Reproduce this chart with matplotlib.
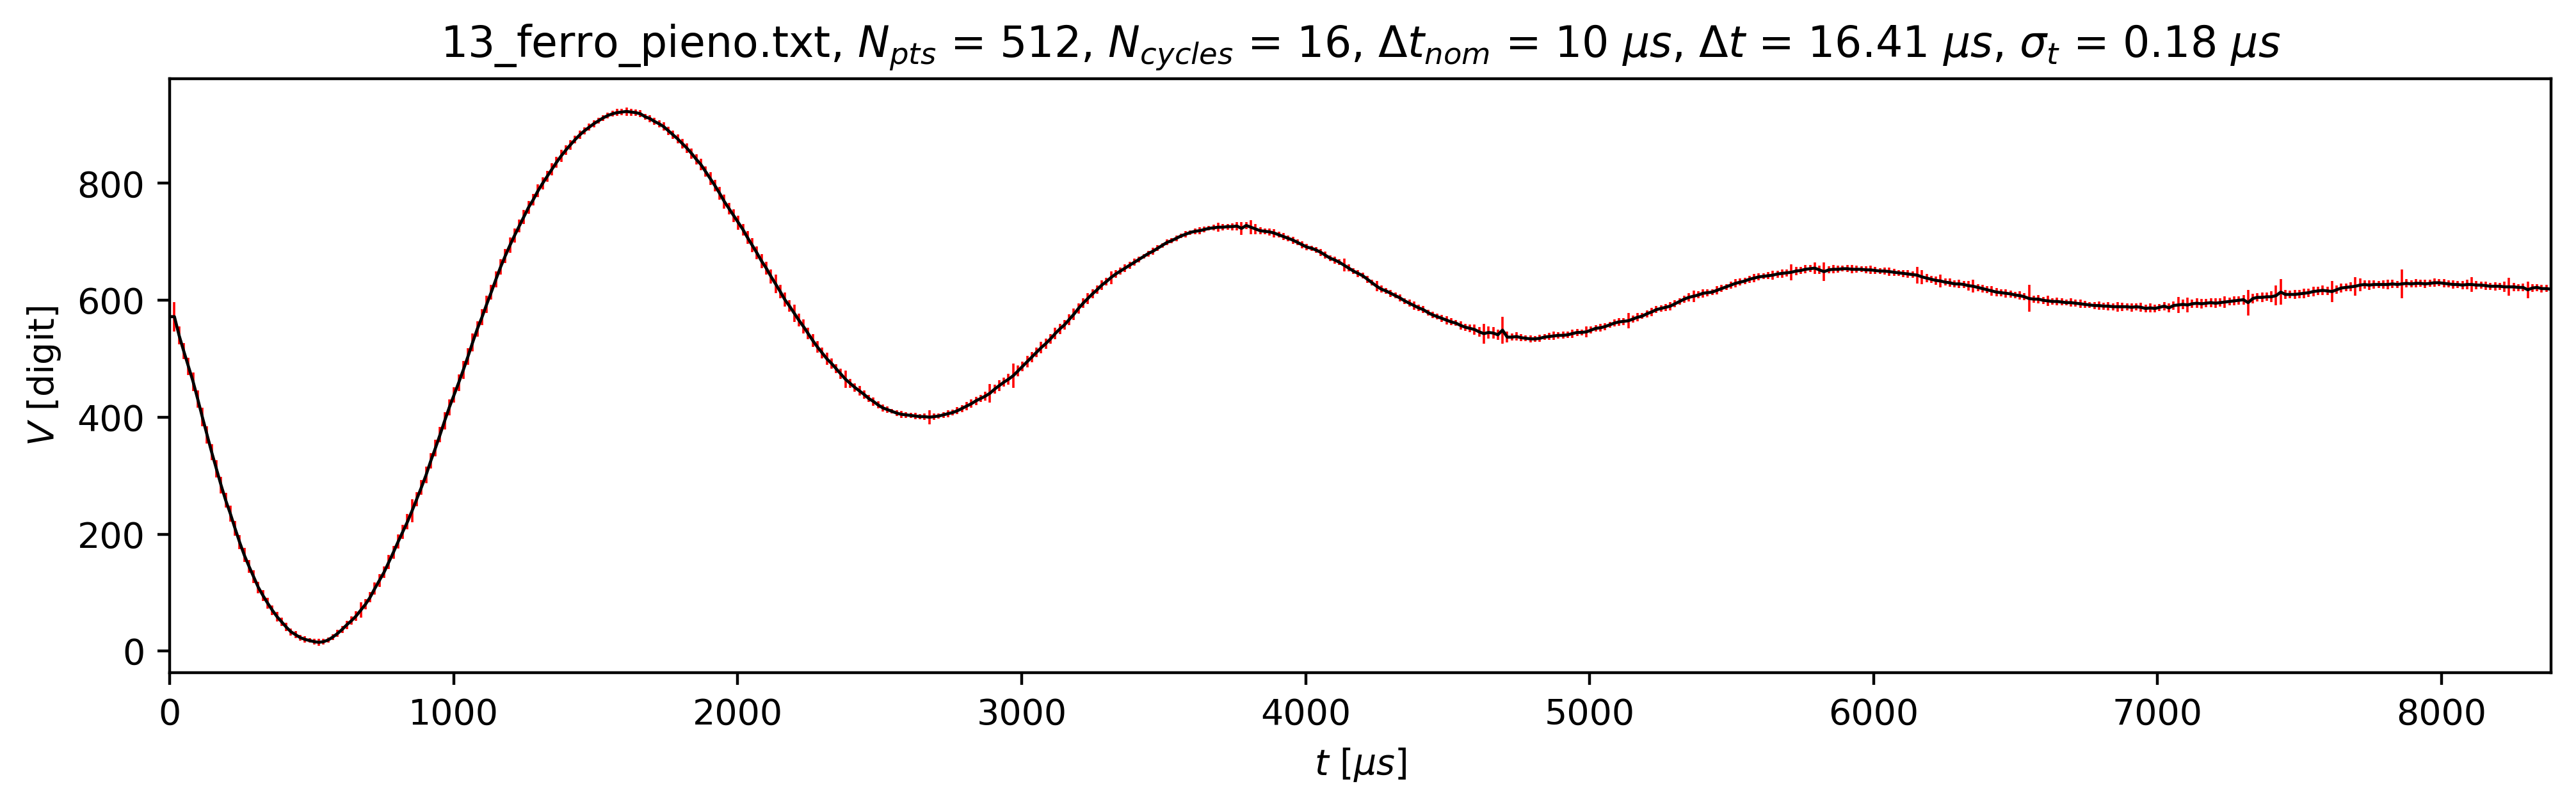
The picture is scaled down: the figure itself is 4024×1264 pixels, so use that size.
import numpy as np
import matplotlib
matplotlib.use("Agg")
import matplotlib.pyplot as plt

# acquisition parameters (from the title)
file_name = "13_ferro_pieno.txt"
n_pts = 512
n_cycles = 16
dt_nom = 10
dt = 16.41
sigma_t = 0.18

# averaged signal [digit], one value per sample
V = [
    572, 572, 540, 513, 487, 461, 431, 400, 370, 340, 312, 284, 258, 235, 210, 186,
    164, 145, 127, 109, 95, 82, 70, 59, 50, 41, 33, 28, 23, 20, 18, 16,
    15, 16, 19, 24, 30, 37, 45, 52, 60, 70, 80, 92, 107, 121, 135, 152,
    169, 187, 204, 221, 240, 260, 280, 301, 325, 347, 370, 394, 417, 438, 459, 481,
    504, 528, 551, 571, 593, 614, 636, 657, 676, 694, 711, 727, 743, 759, 772, 787,
    800, 812, 824, 836, 847, 857, 866, 875, 883, 890, 896, 902, 907, 912, 916, 919,
    921, 922, 923, 922, 921, 919, 914, 911, 906, 902, 897, 890, 883, 876, 868, 860,
    851, 841, 832, 820, 808, 796, 783, 769, 757, 745, 733, 721, 707, 694, 681, 667,
    655, 641, 628, 615, 601, 590, 578, 566, 555, 543, 531, 520, 510, 500, 492, 483,
    474, 465, 458, 451, 445, 439, 432, 427, 421, 416, 413, 410, 407, 405, 404, 403,
    402, 401, 401, 400, 401, 402, 404, 406, 408, 411, 415, 419, 423, 428, 432, 436,
    441, 448, 454, 460, 465, 471, 479, 487, 495, 503, 511, 519, 526, 534, 543, 551,
    558, 567, 576, 586, 595, 603, 611, 618, 626, 632, 639, 645, 650, 655, 660, 665,
    670, 675, 680, 684, 689, 694, 699, 702, 706, 710, 713, 716, 718, 719, 721, 723,
    724, 725, 725, 726, 726, 727, 723, 728, 725, 722, 719, 718, 717, 715, 712, 709,
    706, 703, 699, 695, 691, 689, 686, 682, 677, 672, 669, 665, 660, 655, 650, 646,
    642, 636, 630, 624, 619, 616, 612, 608, 604, 599, 595, 591, 587, 584, 579, 575,
    572, 569, 566, 563, 561, 557, 554, 552, 550, 546, 543, 545, 544, 541, 549, 537,
    537, 538, 536, 535, 534, 534, 535, 537, 538, 539, 540, 540, 541, 543, 545, 545,
    546, 549, 552, 553, 555, 558, 561, 563, 564, 565, 568, 571, 573, 577, 580, 584,
    586, 588, 590, 594, 598, 602, 605, 607, 609, 612, 613, 614, 617, 620, 623, 626,
    629, 631, 633, 636, 638, 640, 641, 642, 643, 645, 646, 647, 648, 650, 651, 653,
    654, 655, 652, 649, 652, 653, 653, 654, 654, 653, 653, 653, 652, 652, 651, 650,
    650, 649, 648, 647, 646, 645, 644, 643, 640, 638, 636, 634, 633, 631, 630, 628,
    628, 627, 625, 624, 622, 620, 618, 616, 614, 613, 612, 611, 609, 608, 606, 603,
    602, 602, 600, 599, 598, 598, 597, 596, 596, 595, 594, 593, 592, 591, 591, 590,
    590, 589, 589, 589, 589, 588, 589, 588, 586, 587, 586, 588, 590, 587, 591, 592,
    593, 592, 594, 595, 594, 595, 596, 595, 596, 597, 598, 599, 600, 601, 596, 603,
    605, 605, 606, 606, 608, 614, 610, 610, 610, 611, 612, 613, 615, 616, 617, 616,
    615, 618, 621, 622, 623, 624, 626, 627, 626, 627, 627, 627, 627, 628, 627, 628,
    629, 628, 629, 629, 628, 629, 630, 630, 629, 628, 627, 627, 626, 627, 627, 626,
    626, 625, 624, 624, 624, 623, 623, 623, 622, 622, 618, 621, 622, 620, 620, 619,
]

# standard deviation over the cycles [digit]
sV = [
    70, 25, 15, 14, 15, 16, 15, 16, 15, 14, 15, 14, 13, 14, 13, 12,
    12, 11, 11, 10, 9, 9, 8, 8, 7, 7, 6, 6, 5, 5, 4, 5,
    6, 5, 4, 5, 6, 6, 7, 7, 8, 13, 9, 9, 10, 11, 10, 12,
    11, 12, 12, 13, 20, 12, 13, 14, 13, 14, 13, 15, 14, 13, 14, 15,
    14, 15, 13, 14, 15, 13, 14, 13, 12, 13, 12, 11, 12, 11, 10, 11,
    10, 9, 10, 9, 10, 8, 8, 7, 7, 6, 6, 6, 5, 5, 5, 5,
    6, 5, 7, 6, 5, 6, 5, 6, 6, 6, 7, 7, 7, 8, 8, 8,
    9, 9, 10, 9, 11, 10, 11, 12, 10, 11, 12, 10, 11, 12, 11, 12,
    11, 12, 16, 11, 12, 10, 15, 11, 12, 10, 11, 10, 9, 10, 9, 8,
    9, 15, 8, 7, 8, 7, 6, 7, 6, 6, 5, 4, 5, 6, 5, 4,
    5, 4, 5, 12, 5, 4, 5, 6, 5, 6, 6, 7, 7, 7, 6, 8,
    16, 8, 9, 8, 9, 21, 9, 8, 10, 9, 8, 10, 9, 8, 10, 9,
    8, 9, 10, 9, 8, 9, 8, 7, 8, 7, 11, 7, 6, 7, 6, 6,
    5, 4, 5, 6, 5, 4, 5, 4, 5, 4, 5, 4, 5, 6, 5, 4,
    5, 8, 6, 5, 6, 7, 11, 6, 12, 9, 6, 5, 6, 7, 5, 6,
    5, 6, 5, 6, 5, 4, 5, 6, 6, 5, 6, 5, 11, 6, 5, 6,
    5, 6, 5, 9, 6, 5, 6, 5, 6, 5, 6, 7, 5, 6, 5, 6,
    5, 6, 7, 6, 5, 7, 6, 7, 9, 8, 17, 10, 10, 9, 23, 9,
    6, 7, 6, 5, 6, 5, 6, 5, 6, 7, 5, 6, 5, 7, 6, 5,
    9, 6, 5, 7, 6, 5, 6, 7, 6, 13, 6, 7, 5, 6, 7, 6,
    5, 6, 7, 6, 5, 6, 7, 10, 6, 7, 6, 5, 7, 6, 5, 6,
    7, 6, 5, 6, 7, 6, 5, 6, 8, 6, 7, 6, 14, 7, 6, 7,
    6, 10, 7, 16, 6, 7, 6, 5, 6, 7, 6, 5, 6, 7, 6, 5,
    6, 7, 6, 5, 6, 7, 6, 14, 12, 7, 6, 7, 11, 6, 7, 6,
    7, 6, 8, 11, 6, 7, 6, 8, 7, 6, 7, 6, 5, 7, 6, 23,
    6, 7, 6, 9, 6, 7, 6, 5, 7, 6, 7, 6, 5, 6, 7, 6,
    7, 6, 8, 7, 6, 7, 6, 8, 7, 8, 7, 6, 7, 8, 7, 14,
    8, 13, 7, 8, 8, 7, 8, 8, 7, 10, 7, 8, 7, 8, 22, 8,
    7, 8, 7, 9, 17, 22, 8, 7, 8, 7, 8, 7, 8, 7, 8, 7,
    18, 7, 8, 7, 8, 16, 11, 7, 8, 7, 6, 7, 8, 7, 6, 25,
    7, 6, 7, 6, 7, 6, 7, 6, 7, 6, 7, 6, 7, 8, 13, 7,
    6, 7, 6, 7, 6, 9, 15, 7, 6, 7, 14, 7, 6, 7, 6, 5,
]

# sampling times
t = np.arange(n_pts) * dt

fig = plt.figure(figsize=(10.06, 3.16), dpi=400)
ax = fig.add_axes([0.0659, 0.1685, 0.9244, 0.7342])

ax.errorbar(t, V, yerr=sV, xerr=sigma_t, fmt='-', color='black', lw=0.85,
            ecolor='red', elinewidth=0.65, capsize=0)

ax.set_xlim(0, t[-1])
ax.set_ylim(-37, 979)
ax.set_xlabel(r'$t$ [$\mu s$]')
ax.set_ylabel(r'$V$ [digit]')
ax.set_title(f'{file_name}, $N_{{pts}}$ = {n_pts}, $N_{{cycles}}$ = {n_cycles}, '
             f'$\\Delta t_{{nom}}$ = {dt_nom} $\\mu s$, $\\Delta t$ = {dt} $\\mu s$, '
             f'$\\sigma_t$ = {sigma_t} $\\mu s$')

fig.savefig('out.png', dpi=400)
